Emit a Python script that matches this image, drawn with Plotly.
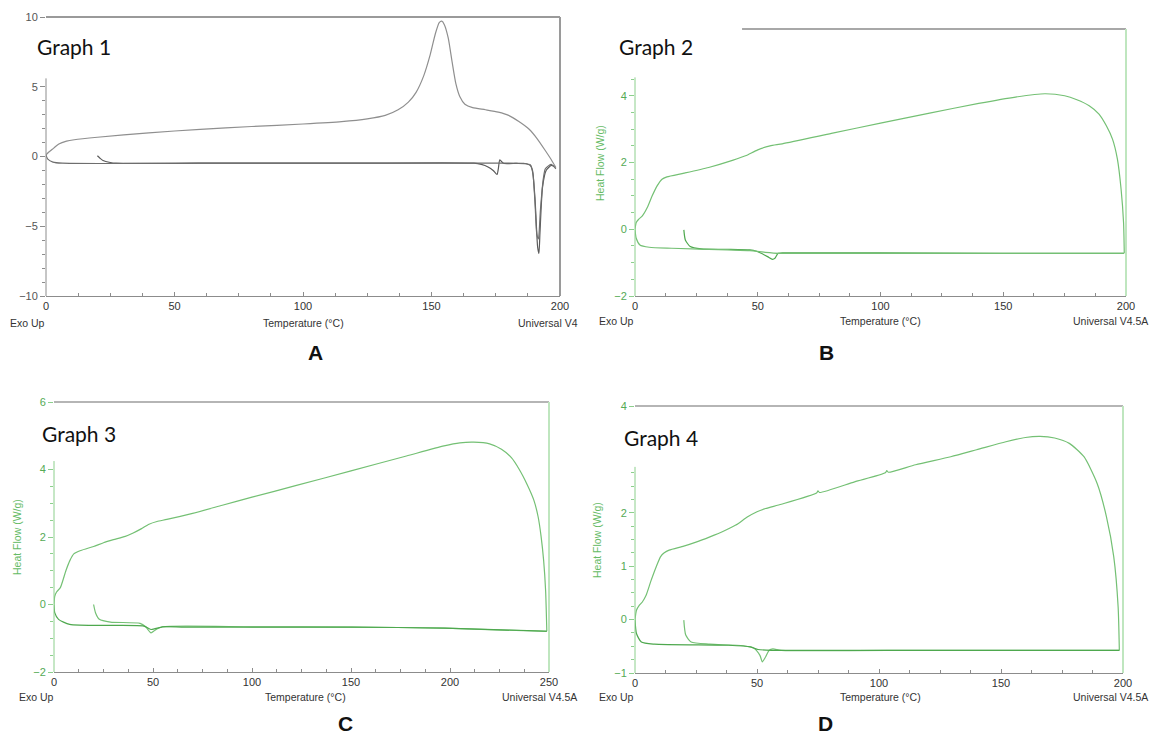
import plotly.graph_objects as go

# page body has an 8px margin: figure occupies the rest of the 1162x738 window
OFF = 8
W, H = 1162 - OFF, 738 - OFF

# ---------------- DATA ----------------
# Graph 1 (grey)
g1_heat1_T = [20, 21, 22.2, 25, 27.3, 60, 120, 166.5, 169.4, 172, 174, 175.5, 176, 176.6, 178, 183, 186.7, 188.5, 189.3, 190.3, 191.3, 191.8, 192.2, 193.2, 194.6, 196.6, 197.8]
g1_heat1_HF = [0.05, -0.12, -0.29, -0.43, -0.48, -0.48, -0.48, -0.48, -0.57, -0.75, -1.0, -1.29, -0.88, -0.24, -0.48, -0.5, -0.52, -0.65, -1.0, -3.1, -6.5, -6.95, -5.5, -2.2, -1.0, -0.64, -0.71]
g1_cool_T = [198.4, 196.5, 194, 191, 188, 184, 180, 176, 171, 166, 163, 161, 159.5, 158, 156.5, 155, 154, 153, 151.5, 149.5, 147, 144, 141, 137, 132, 125, 115, 100, 80, 60, 40, 20, 11, 8, 5, 3, 1, 0]
g1_cool_HF = [-0.8, -0.2, 0.5, 1.3, 1.95, 2.5, 2.95, 3.18, 3.35, 3.5, 3.75, 4.3, 5.2, 6.8, 8.5, 9.45, 9.7, 9.6, 8.8, 7.3, 5.8, 4.6, 3.9, 3.35, 2.95, 2.7, 2.5, 2.33, 2.15, 1.95, 1.7, 1.38, 1.2, 1.1, 0.9, 0.6, 0.3, 0.12]
g1_heat2_T = [0, 0.6, 2.7, 6.3, 60, 120, 170, 186, 188.5, 189.5, 190.3, 191, 191.6, 192.4, 193.5, 194.3, 196.5, 198.4]
g1_heat2_HF = [0.12, -0.17, -0.4, -0.48, -0.48, -0.48, -0.48, -0.5, -0.6, -1.3, -3.4, -5.6, -5.9, -3.8, -1.6, -0.88, -0.57, -0.88]

# Graph 2 (green)
g2_heat1_T = [19.9, 20.5, 22.5, 27, 37.7, 46.8, 49.5, 51.4, 54, 56, 57, 58.3, 62, 100, 150, 199.2]
g2_heat1_HF = [-0.02, -0.32, -0.52, -0.59, -0.6, -0.62, -0.66, -0.72, -0.82, -0.9, -0.87, -0.72, -0.71, -0.71, -0.72, -0.72]
g2_cool_T = [199.3, 199, 198, 196.5, 194.5, 192, 189, 185, 180, 175, 167, 155, 140, 120, 100, 80, 60, 55, 50, 45, 40, 30, 20, 13, 11, 9, 7, 5, 3, 1.5, 0.5, 0]
g2_cool_HF = [-0.72, 0.2, 1.2, 2.1, 2.7, 3.1, 3.45, 3.7, 3.88, 4.0, 4.06, 3.96, 3.77, 3.48, 3.18, 2.87, 2.56, 2.5, 2.38, 2.2, 2.07, 1.85, 1.68, 1.57, 1.5, 1.3, 1.0, 0.65, 0.4, 0.3, 0.2, 0.0]
g2_heat2_T = [0, 0.5, 2, 5.8, 14.9, 37.7, 46.8, 53, 59, 100, 150, 199.2]
g2_heat2_HF = [0.0, -0.27, -0.47, -0.54, -0.57, -0.62, -0.64, -0.69, -0.72, -0.72, -0.72, -0.72]

# Graph 3 (green)
g3_heat1_T = [20, 21, 22.9, 28.5, 43.5, 46.3, 49, 51, 54.8, 100, 150.4, 197.3, 248.9]
g3_heat1_HF = [0.0, -0.25, -0.44, -0.52, -0.56, -0.66, -0.84, -0.76, -0.66, -0.66, -0.67, -0.7, -0.8]
g3_cool_T = [248.9, 248.3, 247.3, 246, 244.5, 242.3, 239, 235, 231, 226, 220, 212, 205, 197, 178, 150, 122, 100, 85, 70, 57, 52, 48, 44, 40, 36, 30, 25, 20, 13.5, 10, 8, 6, 3.2, 1.3, 0.4, 0]
g3_cool_HF = [-0.79, 0.4, 1.3, 2.02, 2.6, 3.1, 3.55, 4.0, 4.35, 4.6, 4.76, 4.81, 4.79, 4.7, 4.4, 3.96, 3.52, 3.18, 2.94, 2.7, 2.52, 2.46, 2.38, 2.24, 2.12, 2.02, 1.92, 1.83, 1.72, 1.6, 1.5, 1.3, 1.0, 0.5, 0.37, 0.25, 0.0]
g3_heat2_T = [0, 0.4, 2.3, 7.9, 28.5, 45.4, 49, 54.8, 66, 150.4, 197.3, 248.9]
g3_heat2_HF = [0.0, -0.25, -0.44, -0.59, -0.62, -0.64, -0.74, -0.66, -0.67, -0.67, -0.7, -0.79]

# Graph 4 (green)
g4_heat1_T = [20, 20.8, 23, 30.7, 44.3, 48.9, 51.2, 52.2, 53.5, 55, 56.5, 60, 120, 198.5]
g4_heat1_HF = [-0.01, -0.29, -0.42, -0.46, -0.49, -0.54, -0.67, -0.79, -0.7, -0.575, -0.55, -0.575, -0.575, -0.575]
g4_cool_T = [198.5, 198, 196.2, 193.2, 189.4, 184, 178, 172, 166, 160, 152, 140, 129.4, 115, 103.8, 103.2, 102.6, 90, 75.6, 75, 74.4, 60, 53.5, 50, 46, 41.3, 36, 30.7, 25, 20, 14, 12, 10.5, 8.7, 6.5, 4.5, 3, 1.8, 0.6, 0]
g4_cool_HF = [-0.575, 0.24, 1.18, 1.93, 2.55, 3.05, 3.3, 3.4, 3.43, 3.41, 3.33, 3.18, 3.05, 2.9, 2.76, 2.79, 2.75, 2.58, 2.38, 2.41, 2.37, 2.16, 2.08, 2.02, 1.92, 1.77, 1.65, 1.55, 1.45, 1.375, 1.3, 1.25, 1.18, 0.99, 0.72, 0.45, 0.33, 0.27, 0.175, 0.0]
g4_heat2_T = [0, 0.6, 2.6, 7.9, 38.3, 47.4, 50.4, 56, 120, 198.5]
g4_heat2_HF = [0.0, -0.26, -0.42, -0.46, -0.48, -0.51, -0.56, -0.575, -0.575, -0.575]

# Axis ticks / labels
x_ticks_200 = [0, 50, 100, 150, 200]
x_ticks_250 = [0, 50, 100, 150, 200, 250]
x_minor_step = 12.5
g1_yticks = [-10, -5, 0, 5, 10]
g2_yticks = [-2, 0, 2, 4]
g3_yticks = [-2, 0, 2, 4, 6]
g4_yticks = [-1, 0, 1, 2, 4]
g1_yminor = [-9, -8, -7, -6, -4, -3, -2, -1, 1, 2, 3, 4]
g2_yminor = [-1.5, -1, -0.5, 0.5, 1, 1.5, 2.5, 3, 3.5, 4.5]
g3_yminor = [-1.5, -1, -0.5, 0.5, 1, 1.5, 2.5, 3, 3.5]
g4_yminor = [-0.75, -0.5, -0.25, 0.25, 0.5, 0.75, 1.25, 1.5, 1.75, 2.25, 2.5, 2.75]

# ---------------- STYLE / LAYOUT ----------------
def px_x(p):
    return (p - OFF) / W

def px_y(p):
    return 1 - (p - OFF) / H

GREY_AX = "#8c8c8c"
GREEN_AX = "#8ccf8c"
GREEN_LBL = "#55aa55"
GREEN_LINE = "#74c074"
GREEN_DARK = "#4ea84e"
TICKFONT = dict(family="Liberation Sans, Arial", size=11, color="#333333")

panels = [
    dict(n=1, xpx=(46, 560), ypx=(296, 17), xr=[0, 200], yr=[-10, 10], xt=x_ticks_200,
         yt=g1_yticks, ym=g1_yminor, ycol="#555555", ytick="#8c8c8c"),
    dict(n=2, xpx=(635, 1126), ypx=(296, 29), xr=[0, 200], yr=[-2, 6], xt=x_ticks_200,
         yt=g2_yticks, ym=g2_yminor, ycol=GREEN_LBL, ytick=GREEN_AX),
    dict(n=3, xpx=(54, 549), ypx=(672, 402), xr=[0, 250], yr=[-2, 6], xt=x_ticks_250,
         yt=g3_yticks, ym=g3_yminor, ycol=GREEN_LBL, ytick=GREEN_AX),
    dict(n=4, xpx=(635, 1123), ypx=(673, 406), xr=[0, 200], yr=[-1, 4], xt=x_ticks_200,
         yt=g4_yticks, ym=g4_yminor, ycol=GREEN_LBL, ytick=GREEN_AX),
]

fig = go.Figure()

series = {
    1: [(g1_heat1_T, g1_heat1_HF, "#5a5a5a"), (g1_cool_T, g1_cool_HF, "#8f8f8f"), (g1_heat2_T, g1_heat2_HF, "#6e6e6e")],
    2: [(g2_heat1_T, g2_heat1_HF, GREEN_DARK), (g2_cool_T, g2_cool_HF, GREEN_LINE), (g2_heat2_T, g2_heat2_HF, GREEN_LINE)],
    3: [(g3_heat1_T, g3_heat1_HF, GREEN_LINE), (g3_cool_T, g3_cool_HF, GREEN_LINE), (g3_heat2_T, g3_heat2_HF, GREEN_DARK)],
    4: [(g4_heat1_T, g4_heat1_HF, GREEN_LINE), (g4_cool_T, g4_cool_HF, GREEN_LINE), (g4_heat2_T, g4_heat2_HF, GREEN_DARK)],
}

for p in panels:
    n = p["n"]
    sfx = "" if n == 1 else str(n)
    for T, HF, col in series[n]:
        fig.add_trace(go.Scatter(x=T, y=HF, mode="lines", xaxis="x" + sfx, yaxis="y" + sfx,
                                 line=dict(color=col, width=1.2, shape="spline", smoothing=0.6),
                                 showlegend=False, hoverinfo="skip"))
    fig.layout["xaxis" + sfx] = dict(
        domain=[px_x(p["xpx"][0]), px_x(p["xpx"][1])], anchor="y" + sfx, range=p["xr"],
        tickmode="array", tickvals=p["xt"], ticks="inside", ticklen=4, tickcolor=GREY_AX,
        minor=dict(dtick=x_minor_step, tick0=0, ticks="inside", ticklen=3, tickcolor=GREY_AX),
        showline=True, linecolor=GREY_AX, linewidth=1, showgrid=False, zeroline=False,
        tickfont=TICKFONT, fixedrange=True, automargin=False)
    fig.layout["yaxis" + sfx] = dict(
        domain=[px_y(p["ypx"][0]), px_y(p["ypx"][1])], anchor="x" + sfx, range=p["yr"],
        tickmode="array", tickvals=p["yt"], ticks="outside", ticklen=5, tickcolor=p["ytick"],
        minor=dict(tickmode="array", tickvals=p["ym"], ticks="outside", ticklen=3, tickcolor=p["ytick"]),
        showline=False, showgrid=False, zeroline=False,
        tickfont=dict(family="Liberation Sans, Arial", size=11, color=p["ycol"]), fixedrange=True,
        automargin=False)

# Axis frame decorations (partial axis lines as in the scanned figure)
frame = [
    (1, 5.6, 0, "#9a9a9a", "#9a9a9a", "#8c8c8c"),
    (2, 4.55, 43.6, "#a8a8a8", "#bfe6bf", GREEN_AX),
    (3, 4.25, 0, "#b5b5b5", "#bfe6bf", GREEN_AX),
    (4, 2.86, 0, "#b5b5b5", "#bfe6bf", GREEN_AX),
]
shapes = []
for n, ltop, tstart, tcol, rcol, lcol in frame:
    sfx = "" if n == 1 else str(n)
    yr = panels[n - 1]["yr"]
    xr = panels[n - 1]["xr"]
    shapes.append(dict(type="line", xref=f"x{sfx} domain", yref=f"y{sfx}", x0=0, x1=0, y0=yr[0], y1=ltop,
                       line=dict(color=lcol, width=1)))
    shapes.append(dict(type="line", xref=f"x{sfx}", yref=f"y{sfx} domain", x0=tstart, x1=xr[1], y0=1, y1=1,
                       line=dict(color=tcol, width=2)))
    shapes.append(dict(type="line", xref=f"x{sfx} domain", yref=f"y{sfx} domain", x0=1, x1=1, y0=0, y1=1,
                       line=dict(color=rcol, width=2)))
fig.update_layout(shapes=shapes)

# Texts
small = dict(family="Liberation Sans, Arial", size=10.5, color="#333333")
ann = []
def text(t, xp, yp, font, xanchor="center", angle=0):
    ann.append(dict(text=t, x=px_x(xp), y=px_y(yp), xref="paper", yref="paper", showarrow=False,
                    xanchor=xanchor, yanchor="middle", font=font, textangle=angle))

graph_font = dict(family="Lato, Noto Sans", size=21, color="#111111")
letter_font = dict(family="Liberation Sans, Arial", size=21, color="#111111")
ylab_font = dict(family="Liberation Sans, Arial", size=10.5, color="#66bb66")

text("Graph 1", 35, 47, graph_font, "left")
text("Graph 2", 617, 47, graph_font, "left")
text("Graph 3", 40, 433, graph_font, "left")
text("Graph 4", 622, 437, graph_font, "left")
text("<b>A</b>", 315, 352, letter_font)
text("<b>B</b>", 826, 352, letter_font)
text("<b>C</b>", 345, 723, letter_font)
text("<b>D</b>", 825, 723, letter_font)

for xe, ye, xt, xu, uanchor, utext in [
    (8, 323, 303, 580, "right", "Universal V4"),
    (597, 321, 880, 1150, "right", "Universal V4.5A"),
    (17, 697, 305, 500, "left", "Universal V4.5A"),
    (597, 697, 880, 1150, "right", "Universal V4.5A"),
]:
    text("Exo Up", xe, ye, small, "left")
    text("Temperature (°C)", xt, ye, small)
    text(utext, xu, ye, small, uanchor)

text("Heat Flow (W/g)", 600, 163, ylab_font, angle=-90)
text("Heat Flow (W/g)", 17, 537, ylab_font, angle=-90)
text("Heat Flow (W/g)", 597, 540, ylab_font, angle=-90)

fig.update_layout(annotations=ann, width=W, height=H, margin=dict(l=0, r=0, t=0, b=0),
                  plot_bgcolor="white", paper_bgcolor="white", showlegend=False)

fig.write_html("out.html", config={"displayModeBar": False})
